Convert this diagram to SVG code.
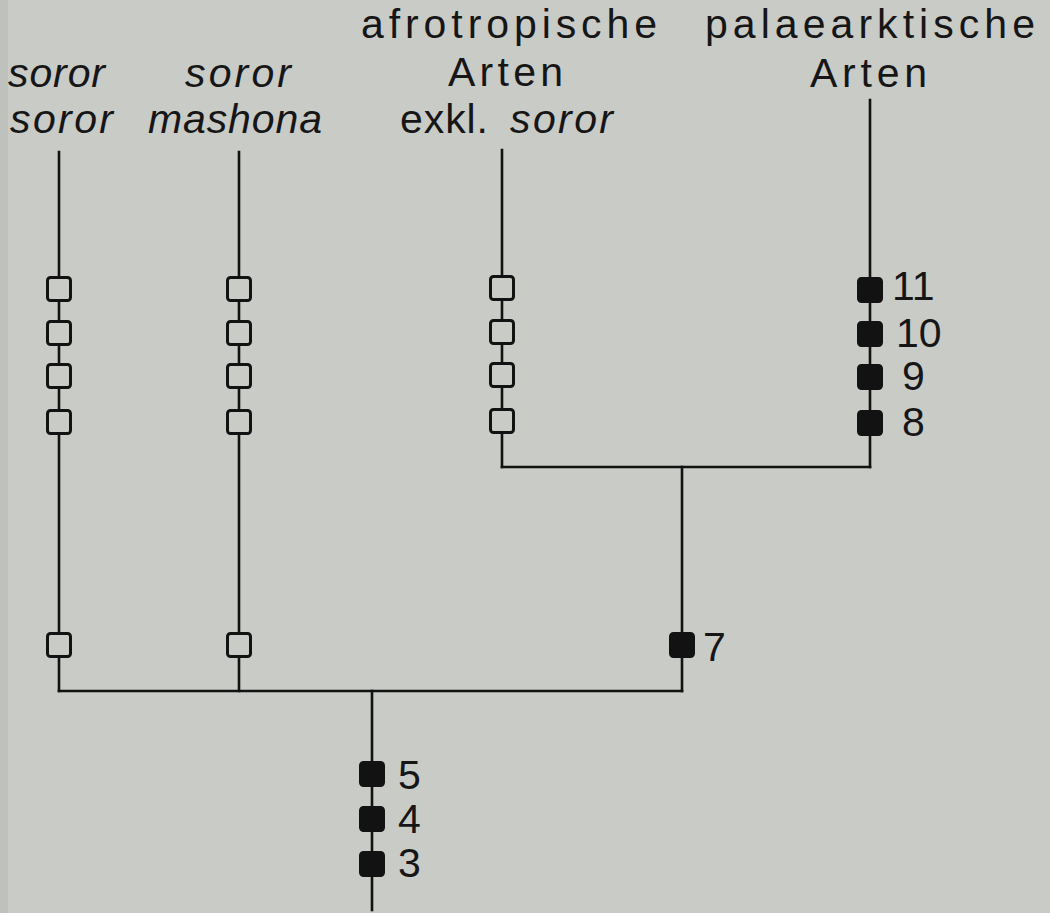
<svg xmlns="http://www.w3.org/2000/svg" width="1050" height="913" viewBox="0 0 1050 913">
<defs>
<style>
.bg{fill:#c9cbc6}
.ln{stroke:#121212;stroke-width:2.6;fill:none;stroke-linecap:square}
.open{fill:#c9cbc6;stroke:#121212;stroke-width:3}
.fill{fill:#121212;stroke:#121212;stroke-width:3}
.lab{font-family:"Liberation Sans",Arial,sans-serif;font-size:41px;fill:#161616}
.it{font-style:italic}
.num{font-family:"Liberation Sans",Arial,sans-serif;font-size:41px;fill:#161616}
</style>
<rect id="ob" class="open" x="-11.5" y="-11.5" width="23" height="23" rx="3"/>
<rect id="fb" class="fill" x="-11.5" y="-11.5" width="23" height="23" rx="3"/>
</defs>
<rect class="bg" x="0" y="0" width="1050" height="913"/>
<rect x="0" y="0" width="8" height="913" fill="#bfc1bc"/>

<g id="connectors">
<line class="ln" x1="59" y1="152" x2="59" y2="691"/>
<line class="ln" x1="239" y1="152" x2="239" y2="691"/>
<line class="ln" x1="502" y1="150" x2="502" y2="467"/>
<line class="ln" x1="870" y1="100" x2="870" y2="467"/>
<line class="ln" x1="502" y1="467" x2="870" y2="467"/>
<line class="ln" x1="682" y1="467" x2="682" y2="691"/>
<line class="ln" x1="59" y1="691" x2="682" y2="691"/>
<line class="ln" x1="372" y1="691" x2="372" y2="910"/>
</g>

<g id="taxon-soror-soror">
<text class="lab it" x="8" y="87" textLength="97" lengthAdjust="spacing">soror</text>
<text class="lab it" x="10" y="133" textLength="103" lengthAdjust="spacing">soror</text>
</g>
<g id="taxon-soror-mashona">
<text class="lab it" x="185" y="87" textLength="106" lengthAdjust="spacing">soror</text>
<text class="lab it" x="148" y="133" textLength="174" lengthAdjust="spacing">mashona</text>
</g>
<g id="taxon-afrotropische">
<text class="lab" x="361" y="38" textLength="296" lengthAdjust="spacing">afrotropische</text>
<text class="lab" x="448" y="86" textLength="115" lengthAdjust="spacing">Arten</text>
<text class="lab" x="400" y="133" textLength="88" lengthAdjust="spacing">exkl.</text>
<text class="lab it" x="510" y="133" textLength="103" lengthAdjust="spacing">soror</text>
</g>
<g id="taxon-palaearktische">
<text class="lab" x="705" y="38" textLength="330" lengthAdjust="spacing">palaearktische</text>
<text class="lab" x="810" y="87" textLength="117" lengthAdjust="spacing">Arten</text>
</g>

<g id="chars-soror-soror">
<use href="#ob" x="59" y="289"/>
<use href="#ob" x="59" y="333"/>
<use href="#ob" x="59" y="376"/>
<use href="#ob" x="59" y="422"/>
<use href="#ob" x="59" y="645"/>
</g>
<g id="chars-soror-mashona">
<use href="#ob" x="239" y="289"/>
<use href="#ob" x="239" y="333"/>
<use href="#ob" x="239" y="376"/>
<use href="#ob" x="239" y="422"/>
<use href="#ob" x="239" y="645"/>
</g>
<g id="chars-afrotropische">
<use href="#ob" x="502" y="288"/>
<use href="#ob" x="502" y="332"/>
<use href="#ob" x="502" y="375"/>
<use href="#ob" x="502" y="421"/>
</g>
<g id="chars-palaearktische">
<use href="#fb" x="870" y="290"/>
<use href="#fb" x="870" y="334"/>
<use href="#fb" x="870" y="377"/>
<use href="#fb" x="870" y="423"/>
<text class="num" x="892" y="300">11</text>
<text class="num" x="896" y="347">10</text>
<text class="num" x="902" y="390">9</text>
<text class="num" x="902" y="436">8</text>
</g>
<g id="chars-afro-palae">
<use href="#fb" x="682" y="645"/>
<text class="num" x="703" y="661">7</text>
</g>
<g id="chars-root">
<use href="#fb" x="372" y="774"/>
<use href="#fb" x="372" y="819"/>
<use href="#fb" x="372" y="864"/>
<text class="num" x="398" y="789">5</text>
<text class="num" x="398" y="833">4</text>
<text class="num" x="398" y="877">3</text>
</g>
</svg>
